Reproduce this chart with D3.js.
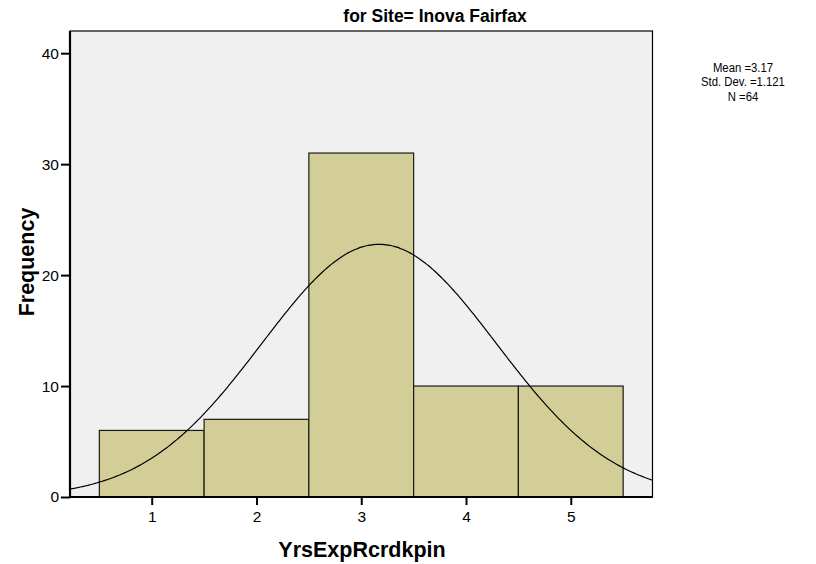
<!DOCTYPE html>
<html>
<head>
<meta charset="utf-8">
<script src="https://cdn.jsdelivr.net/npm/d3@7/dist/d3.min.js"></script>
<style>
  html, body { margin: 0; padding: 0; background: #fff; }
  svg { display: block; }
  text { font-family: "Liberation Sans", Arial, sans-serif; fill: #000; }
</style>
</head>
<body>
<svg id="chart" width="816" height="564"></svg>
<script>
// Histogram of years of experience record keeping, with a fitted normal curve
const categories = [1, 2, 3, 4, 5];
const frequencies = [6, 7, 31, 10, 10];
const yTicks = [0, 10, 20, 30, 40];
const statLines = ["Mean =3.17", "Std. Dev. =1.121", "N =64"];
const meanValue = 3.17;
const sdValue = 1.121;
const nValue = 64;

const svg = d3.select("#chart");
const plot = { left: 70, right: 652.5, top: 31, bottom: 497 };

const x = d3.scaleLinear().domain([0.22, 5.78]).range([plot.left, plot.right]);
const y = d3.scaleLinear().domain([0, 42]).range([plot.bottom, plot.top]);

// plot background
svg.append("rect")
  .attr("x", plot.left).attr("y", plot.top)
  .attr("width", plot.right - plot.left).attr("height", plot.bottom - plot.top)
  .attr("fill", "#f0f0f0").attr("stroke", "#000").attr("stroke-width", 1.2);

// bars
svg.append("g").selectAll("rect")
  .data(categories.map((c, i) => ({ c, v: frequencies[i] })))
  .join("rect")
  .attr("x", d => x(d.c - 0.5))
  .attr("y", d => y(d.v))
  .attr("width", d => x(d.c + 0.5) - x(d.c - 0.5))
  .attr("height", d => y(0) - y(d.v))
  .attr("fill", "#d3ce98")
  .attr("stroke", "#1a1a1a")
  .attr("stroke-width", 1.2);

// normal curve scaled to counts (bin width 1)
const pdf = v => nValue * Math.exp(-0.5 * ((v - meanValue) / sdValue) ** 2) / (sdValue * Math.sqrt(2 * Math.PI));
const xs = d3.range(0.22, 5.7801, 0.02);
svg.append("path")
  .datum(xs)
  .attr("fill", "none")
  .attr("stroke", "#000")
  .attr("stroke-width", 1.2)
  .attr("d", d3.line().x(d => x(d)).y(d => y(pdf(d))).curve(d3.curveBasis));

// axes
const yAxis = svg.append("g")
  .attr("transform", `translate(${plot.left},0)`)
  .call(d3.axisLeft(y).tickValues(yTicks).tickSize(9).tickPadding(2));
const xAxis = svg.append("g")
  .attr("transform", `translate(0,${plot.bottom})`)
  .call(d3.axisBottom(x).tickValues(categories).tickFormat(d3.format("d")).tickSize(8).tickPadding(6));

[yAxis, xAxis].forEach(g => {
  g.select(".domain").attr("stroke", "#000").attr("stroke-width", 2.2);
  g.selectAll(".tick line").attr("stroke", "#000").attr("stroke-width", 2);
  g.selectAll(".tick text").attr("font-size", 15.5).attr("font-family", "\"Liberation Sans\", Arial, sans-serif").attr("fill", "#000");
});
xAxis.select(".domain").attr("d", `M${plot.left},0H${plot.right}`);
yAxis.select(".domain").attr("d", `M0,${plot.bottom}V${plot.top}`);

// title
svg.append("text")
  .attr("x", 435).attr("y", 22)
  .attr("text-anchor", "middle")
  .attr("font-size", 17.5).attr("font-weight", "bold")
  .text("for Site= Inova Fairfax");

// axis titles
svg.append("text")
  .attr("x", 362).attr("y", 557)
  .attr("text-anchor", "middle")
  .attr("font-size", 21.5).attr("font-weight", "bold")
  .text("YrsExpRcrdkpin");

svg.append("text")
  .attr("transform", "translate(34,262) rotate(-90)")
  .attr("text-anchor", "middle")
  .attr("font-size", 21.5).attr("font-weight", "bold")
  .text("Frequency");

// summary statistics, set in a condensed face
svg.append("g").selectAll("text")
  .data(statLines)
  .join("text")
  .attr("x", 743)
  .attr("y", (d, i) => 72 + i * 14.5)
  .attr("text-anchor", "middle")
  .attr("font-size", 13.5)
  .attr("transform", "translate(743,0) scale(0.84,1) translate(-743,0)")
  .text(d => d);
</script>
</body>
</html>
